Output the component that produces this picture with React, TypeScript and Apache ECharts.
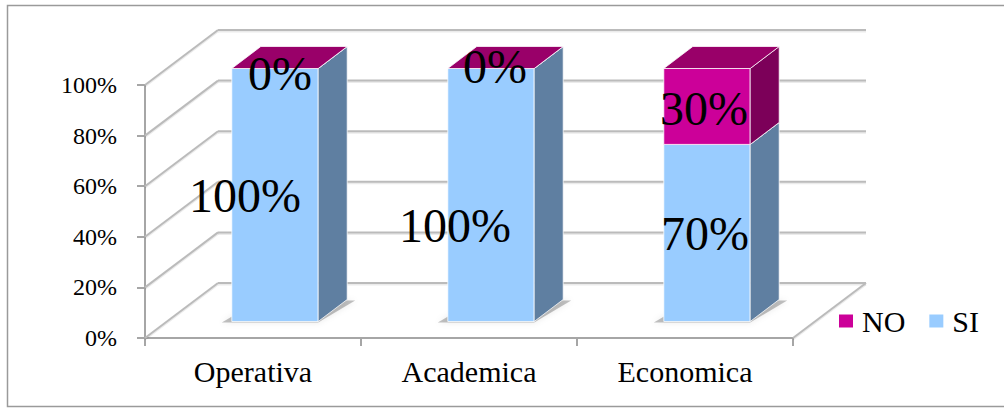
import React, { useEffect, useRef } from "react";
import * as echarts from "echarts";

const CATEGORIES = ["Operativa", "Academica", "Economica"];
const SI_VALUES = [100, 100, 70];
const NO_VALUES = [0, 0, 30];
const Y_TICKS = [0, 20, 40, 60, 80, 100];
const LEGEND_NAMES = ["NO", "SI"];

// small label nudges (px) relative to each segment's centre, as Excel placed them
const SI_LABEL_NUDGE = [[-30, 0], [-36, 30], [-2, 1]];
const NO_LABEL_NUDGE = [[5, 5], [4, -2], [-3, 2]];

const FONT = "Liberation Serif";
const DEPTH = [73, -55];
const BAR_DEPTH = [29, -22];
const BAR_OFF = [(DEPTH[0] - BAR_DEPTH[0]) / 2, (DEPTH[1] - BAR_DEPTH[1]) / 2];

const SI_COLORS = { front: "#99CCFF", side: "#5F7FA1", top: "#B8DCFF" };
const NO_COLORS = { front: "#CC0099", side: "#7C0059", top: "#990069" };

const GRID_LINE = { stroke: "#BBBBBB", lineWidth: 2 };
const GRID_SHADOW = { stroke: "rgba(0,0,0,0.08)", lineWidth: 2 };

function gridLine(x1: number, y1: number, x2: number, y2: number) {
  return [
    { type: "line", shape: { x1, y1: y1 + 1.5, x2, y2: y2 + 1.5 }, style: GRID_SHADOW },
    { type: "line", shape: { x1, y1, x2, y2 }, style: GRID_LINE },
  ];
}

function renderWall(params: any, api: any) {
  const v = api.value(1);
  const cs = params.coordSys;
  const y = api.coord([0, v])[1];
  const x0 = cs.x;
  const x1 = cs.x + cs.width;
  const [dx, dy] = DEPTH;
  const children: any[] = [
    ...gridLine(x0 + dx, y + dy, x1 + dx, y + dy),
    ...gridLine(x0, y, x0 + dx, y + dy),
  ];
  if (v === 0) {
    children.push(...gridLine(x1, y, x1 + dx, y + dy));
  }
  return { type: "group", children };
}

function makeRenderBar(colors: any, nudges: number[][]) {
  return (params: any, api: any) => {
    const cat = api.value(0);
    const base = api.value(1);
    const val = api.value(2);
    const pb = api.coord([cat, base]);
    const pt = api.coord([cat, base + val]);
    const bw = api.size([1, 0])[0] * 0.4;
    const xl = pb[0] - bw / 2 + BAR_OFF[0];
    const xr = xl + bw;
    const yb = pb[1] + BAR_OFF[1];
    const yt = pt[1] + BAR_OFF[1];
    const [bdx, bdy] = BAR_DEPTH;
    const edge = "rgba(255,255,255,0.75)";
    const children: any[] = [];
    if (base === 0) {
      children.push({
        type: "polygon",
        shape: {
          points: [
            [xl - 10, yb + 1],
            [xr, yb + 1],
            [xr + bdx + 8, yb + bdy + 1],
            [xl + bdx, yb + bdy],
          ],
        },
        style: { fill: "rgba(0,0,0,0.24)", shadowBlur: 6, shadowColor: "rgba(0,0,0,0.35)" },
      });
    }
    if (yb - yt > 0.1) {
      children.push({
        type: "rect",
        shape: { x: xl, y: yt, width: bw, height: yb - yt },
        style: { fill: colors.front, stroke: edge, lineWidth: 1 },
      });
      children.push({
        type: "polygon",
        shape: {
          points: [
            [xr, yb],
            [xr + bdx, yb + bdy],
            [xr + bdx, yt + bdy],
            [xr, yt],
          ],
        },
        style: { fill: colors.side, stroke: edge, lineWidth: 1 },
      });
    }
    children.push({
      type: "polygon",
      shape: {
        points: [
          [xl, yt],
          [xl + bdx, yt + bdy],
          [xr + bdx, yt + bdy],
          [xr, yt],
        ],
      },
      style: { fill: colors.top, stroke: edge, lineWidth: 1 },
    });
    const n = nudges[params.dataIndex] || [0, 0];
    children.push({
      type: "text",
      x: (xl + xr) / 2 + n[0],
      y: (yt + yb) / 2 + n[1],
      z2: 100,
      style: {
        text: `${val}%`,
        fill: "#000",
        fontSize: 48,
        fontFamily: FONT,
        align: "center",
        verticalAlign: "middle",
      },
    });
    return { type: "group", children };
  };
}

export default function App() {
  const ref = useRef<HTMLDivElement>(null);

  useEffect(() => {
    document.body.style.margin = "0";
    if (!ref.current) return;
    const chart = echarts.init(ref.current, null, { renderer: "svg" });
    const siData = SI_VALUES.map((v, i) => [i, 0, v]);
    const noData = NO_VALUES.map((v, i) => [i, SI_VALUES[i], v]);
    const wallData = Y_TICKS.map((v) => [0, v]);

    chart.setOption({
      animation: false,
      backgroundColor: "#ffffff",
      textStyle: { fontFamily: FONT },
      graphic: [
        {
          type: "rect",
          shape: { x: 7.5, y: 5.5, width: 1010, height: 401 },
          style: { fill: "none", stroke: "#9A9A9A", lineWidth: 1.5 },
          silent: true,
        },
      ],
      legend: {
        data: LEGEND_NAMES,
        left: 834,
        top: 301,
        icon: "rect",
        itemWidth: 14,
        itemHeight: 13,
        itemGap: 24,
        textStyle: { fontFamily: FONT, fontSize: 30, color: "#000", padding: [0, 0, 0, 4] },
        selectedMode: false,
      },
      grid: { left: 145, top: 85, width: 648, height: 253 },
      xAxis: {
        type: "category",
        data: CATEGORIES,
        boundaryGap: true,
        axisLine: { show: true, lineStyle: { color: "#A6A6A6", width: 2 } },
        axisTick: { show: true, alignWithLabel: false, length: 8, lineStyle: { color: "#A6A6A6", width: 2 } },
        axisLabel: { color: "#000", fontSize: 30, fontFamily: FONT, margin: 18 },
        splitLine: { show: false },
      },
      yAxis: {
        type: "value",
        min: 0,
        max: 100,
        interval: 20,
        axisLine: { show: true, lineStyle: { color: "#A6A6A6", width: 2 } },
        axisTick: { show: true, length: 8, lineStyle: { color: "#A6A6A6", width: 2 } },
        axisLabel: {
          color: "#000",
          fontSize: 24,
          fontFamily: FONT,
          margin: 28,
          formatter: (v: number) => `${v}%`,
        },
        splitLine: { show: false },
      },
      series: [
        {
          name: "_wall",
          type: "custom",
          renderItem: renderWall,
          data: wallData,
          encode: { x: 0, y: 1 },
          silent: true,
          z: 1,
        },
        {
          name: "SI",
          type: "custom",
          renderItem: makeRenderBar(SI_COLORS, SI_LABEL_NUDGE),
          data: siData,
          encode: { x: 0, y: 2 },
          itemStyle: { color: SI_COLORS.front },
          z: 3,
        },
        {
          name: "NO",
          type: "custom",
          renderItem: makeRenderBar(NO_COLORS, NO_LABEL_NUDGE),
          data: noData,
          encode: { x: 0, y: 2 },
          itemStyle: { color: NO_COLORS.front },
          z: 4,
        },
      ],
    });
    return () => chart.dispose();
  }, []);

  return <div ref={ref} style={{ width: 1004, height: 408 }} />;
}
